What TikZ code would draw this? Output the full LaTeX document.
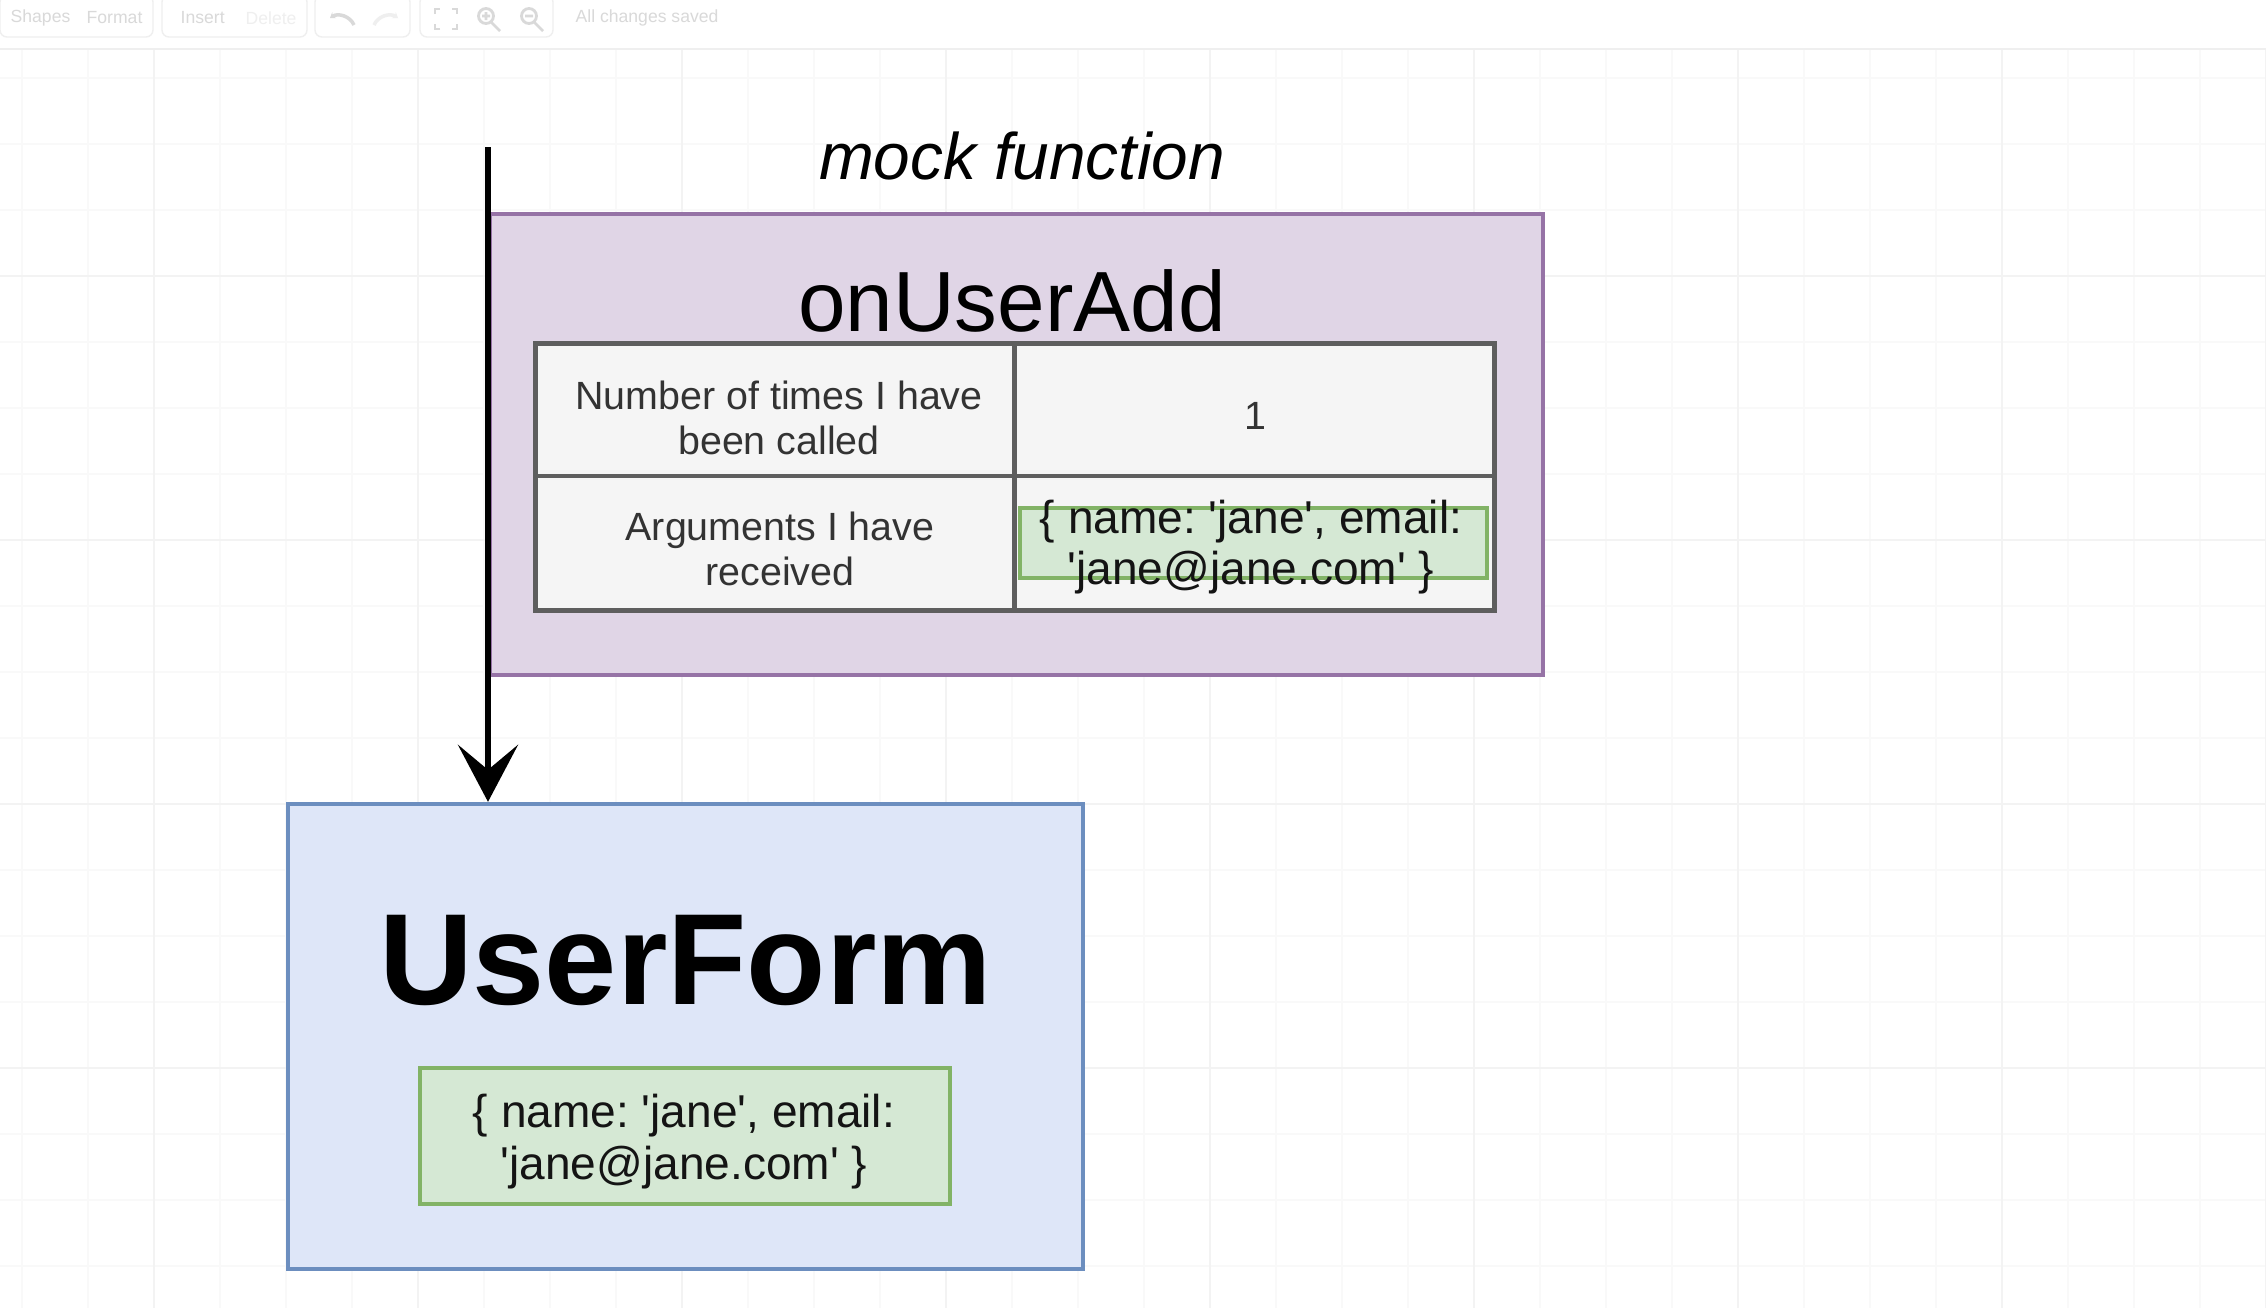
\documentclass[tikz,border=0pt]{standalone}
\usepackage{fontspec}
\setmainfont{Liberation Sans}
\usetikzlibrary{arrows.meta}
\newcommand{\sqt}{\textquotesingle}

\begin{document}
\begin{tikzpicture}[x=0.01cm,y=-0.01cm]
    \definecolor{gridMinor}{HTML}{F9F9F9}
    \definecolor{gridMajor}{HTML}{F3F3F3}
    \definecolor{toolText}{HTML}{D9D9D9}
    \definecolor{toolFaint}{HTML}{EFEFEF}
    \definecolor{mockFill}{HTML}{E0D5E6}
    \definecolor{mockBorder}{HTML}{9673A6}
    \definecolor{cellFill}{HTML}{F5F5F5}
    \definecolor{cellBorder}{HTML}{5E5E5E}
    \definecolor{argsFill}{HTML}{D5E8D4}
    \definecolor{argsBorder}{HTML}{82B366}
    \definecolor{formFill}{HTML}{DEE6F8}
    \definecolor{formBorder}{HTML}{6C8EBF}

    \def\pageW{2266}
    \def\pageH{1308}

    \tikzset{
        box/.style={draw, rectangle, inner sep=0pt},
        cellbox/.style={box, fill=cellFill, draw=cellBorder, line width=1.4pt, minimum width=4.79cm, minimum height=1.33cm},
        argsbox/.style={box, fill=argsFill, draw=argsBorder, line width=1.1pt},
        celltext/.style={align=center, text=black!80, font=\fontsize{11.2}{12.8}\selectfont},
        argstext/.style={align=center, text=black!92, font=\fontsize{13.1}{14.5}\selectfont\frenchspacing},
        tooltext/.style={text=toolText, anchor=west, inner sep=0pt, font=\fontsize{5}{6}\selectfont},
    }

    % Page
    \useasboundingbox[fill=white] (0,0) rectangle (\pageW,\pageH);

    % Draw grid
    \foreach \x in {22,88,...,2266}
        \draw[gridMinor, line width=0.45pt] (\x,0) -- (\x,\pageH);
    \foreach \y in {12,78,...,1308}
        \draw[gridMinor, line width=0.45pt] (0,\y) -- (\pageW,\y);
    \foreach \x in {154,418,...,2266}
        \draw[gridMajor, line width=0.5pt] (\x,0) -- (\x,\pageH);
    \foreach \y in {276,540,...,1308}
        \draw[gridMajor, line width=0.5pt] (0,\y) -- (\pageW,\y);

    % Toolbar
    \fill[white] (0,0) rectangle (\pageW,48);
    \draw[toolFaint, line width=0.6pt] (0,49) -- (\pageW,49);
    \foreach \a/\b in {0/153,162/307,315/410,420/553}
        \draw[toolFaint, rounded corners=2pt, line width=0.4pt] (\a,-5) rectangle (\b,37);
    \node[tooltext] (shapesTab) at (10,18) {Shapes};
    \node[tooltext] (formatTab) at (86,18) {Format};
    \node[tooltext] (insertBtn) at (180,18) {Insert};
    \node[tooltext, text=toolFaint] (deleteBtn) at (245,18) {Delete};
    \draw[toolText, line width=1pt, -{Stealth[length=0.05cm,width=0.07cm]}] (354,25) to[bend right=50] (330,18);
    \draw[toolFaint, line width=1pt, -{Stealth[length=0.05cm,width=0.07cm]}] (374,25) to[bend left=50] (398,18);
    \draw[toolText, line width=0.8pt] (435,14) -- (435,9) -- (440,9) (452,9) -- (457,9) -- (457,14)
        (457,24) -- (457,29) -- (452,29) (440,29) -- (435,29) -- (435,24);
    \draw[toolText, line width=0.8pt] (486,16) circle (7.5) (491,22) -- (500,31)
        (482,16) -- (490,16) (486,12) -- (486,20);
    \draw[toolText, line width=0.8pt] (529,16) circle (7.5) (534,22) -- (543,31)
        (525,16) -- (533,16);
    \node[tooltext] (savedMsg) at (575,18) {All changes saved};

    % Mock function
    \node[box, fill=mockFill, draw=mockBorder, line width=1.15pt, minimum width=10.53cm, minimum height=4.61cm] (mockFn) at (1016.5,444.5) {};
    \node[anchor=base, font=\fontsize{18.7}{22}\selectfont\itshape] (mockTitle) at (1022,179) {mock function};
    \node[anchor=base, font=\fontsize{24.3}{29}\selectfont] (fnName) at (1012,331) {onUserAdd};

    % Table of calls
    \node[cellbox] (callsKey) at (775.5,410) {};
    \node[cellbox] (callsVal) at (1254.5,410) {};
    \node[cellbox, minimum height=1.34cm] (argsKey) at (775.5,543) {};
    \node[cellbox, minimum height=1.34cm] (argsVal) at (1254.5,543) {};
    \node[celltext] (callsKeyText) at (779,418) {Number of times I have\\been called};
    \node[celltext] (callsValText) at (1255,416) {1};
    \node[celltext] (argsKeyText) at (780,549) {Arguments I have\\received};
    \node[argsbox, minimum width=4.67cm, minimum height=0.70cm] (argsSeen) at (1253.5,543) {};
    \node[argstext] (argsSeenText) at (1251,547) {\{ name: \sqt jane\sqt, email:\\\sqt jane@jane.com\sqt\ \}};

    % UserForm
    \node[box, fill=formFill, draw=formBorder, line width=1.15pt, minimum width=7.945cm, minimum height=4.65cm] (userForm) at (685.75,1036.5) {};
    \node[anchor=base, font=\fontsize{36.9}{44}\selectfont\bfseries] (formName) at (685.5,1004) {UserForm};
    \node[argsbox, minimum width=5.30cm, minimum height=1.36cm] (formArgs) at (685,1136) {};
    \node[argstext, font=\fontsize{13.1}{14.8}\selectfont\frenchspacing] (formArgsText) at (684,1142) {\{ name: \sqt jane\sqt, email:\\\sqt jane@jane.com\sqt\ \}};

    % Call arrow
    \coordinate (callIn) at (488,147);
    \draw[-{Stealth[length=0.57cm,width=0.60cm,inset=0.25cm]}, line width=1.7pt] (callIn) -- (callIn |- userForm.north);

\end{tikzpicture}
\end{document}
